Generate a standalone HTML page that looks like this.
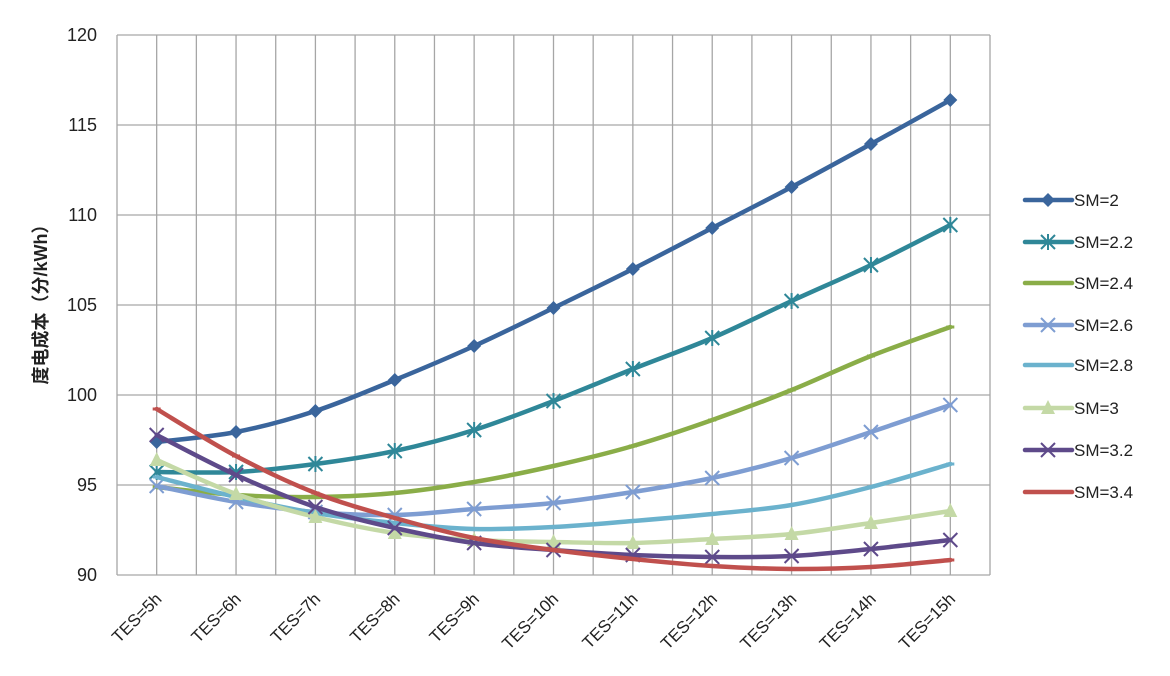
<!DOCTYPE html>
<html><head><meta charset="utf-8"><style>
html,body{margin:0;padding:0;background:#fff;}
svg text{font-family:"Liberation Sans","Noto Sans CJK SC",sans-serif;fill:#222;}
</style></head><body>
<svg id="s" width="1170" height="671" xmlns="http://www.w3.org/2000/svg">
<g id="grid" stroke="#a6a6a6" stroke-width="1.3" fill="none"></g>
<g font-size="18" text-anchor="end">
<text x="97" y="41">120</text><text x="97" y="131">115</text><text x="97" y="221">110</text>
<text x="97" y="311">105</text><text x="97" y="401">100</text><text x="97" y="491">95</text><text x="97" y="581">90</text>
</g>
<text transform="translate(47,300) rotate(-90)" font-size="18" font-weight="bold" text-anchor="middle">度电成本（分/kWh）</text>
<g id="xl" font-size="17" text-anchor="end"></g>
<g id="series"></g>
<g id="legend" font-size="17"></g>
</svg>
<script>
var NS="http://www.w3.org/2000/svg";
function el(p,t,a,txt){var e=document.createElementNS(NS,t);for(var k in a)e.setAttribute(k,a[k]);if(txt)e.textContent=txt;p.appendChild(e);return e;}
var L=117,R=990,T=35,B=575,w=(R-L)/11;
var g=document.getElementById('grid');
for(var i=0;i<=22;i++){var x=L+i*w/2;el(g,'line',{x1:x,y1:T,x2:x,y2:B});}
for(var j=0;j<=6;j++){var y=T+j*90;el(g,'line',{x1:L,y1:y,x2:R,y2:y});}
var xl=document.getElementById('xl');
for(var i=0;i<11;i++){var cx=L+w*(i+0.5);el(xl,'text',{transform:'translate('+(cx+6)+',600) rotate(-45)'},'TES='+(i+5)+'h');}
var S=[
['SM=2','#3a659c','d',[442,432,411,380,346,308,269,228,187,144,100]],
['SM=2.2','#2f8798','x',[472,472,464,451,430,401,369,338,301,265,225]],
['SM=2.4','#8aad48','-',[487,495,497,493,482,466,446,420,390,356,327]],
['SM=2.6','#7e9dd2','x',[486,502,512,515,509,503,492,478,458,432,405]],
['SM=2.8','#6bb2cd','-',[477,497,513,523,529,527,521,514,505,487,464]],
['SM=3','#c4d9a6','t',[460,494,517,533,540,542,543,539,534,523,511]],
['SM=3.2','#5e4a8a','x',[435,475,507,528,543,550,555,557,556,549,540]],
['SM=3.4','#c0504d','-',[409,456,493,518,538,550,559,566,569,567,560]]];
var sg=document.getElementById('series'),lg=document.getElementById('legend');
var ly=[200,242,283,325,365,408,450,492];
function marker(p,k,x,y,c){
 if(k=='d')el(p,'path',{d:'M'+x+','+(y-7)+'L'+(x+7)+','+y+'L'+x+','+(y+7)+'L'+(x-7)+','+y+'Z',fill:c});
 else if(k=='t')el(p,'path',{d:'M'+x+','+(y-8)+'L'+(x+7)+','+(y+6)+'L'+(x-7)+','+(y+6)+'Z',fill:c});
 else if(k=='x'){el(p,'path',{d:'M'+(x-7)+','+(y-7)+'L'+(x+7)+','+(y+7)+'M'+(x+7)+','+(y-7)+'L'+(x-7)+','+(y+7)+(c=='#2f8798'?'M'+x+','+(y-8)+'L'+x+','+(y+8):''),stroke:c,'stroke-width':2,fill:'none'});}
 else el(p,'rect',{x:x-4,y:y-1.5,width:8,height:3,fill:c});
}
S.forEach(function(s,si){
 var pts=s[3].map(function(y,i){return [L+w*(i+0.5),y];});
 var d='M'+pts[0][0]+','+pts[0][1];
 for(var i=0;i<pts.length-1;i++){
  var p0=pts[Math.max(i-1,0)],p1=pts[i],p2=pts[i+1],p3=pts[Math.min(i+2,pts.length-1)];
  var c1=[p1[0]+(p2[0]-p0[0])/6,p1[1]+(p2[1]-p0[1])/6],c2=[p2[0]-(p3[0]-p1[0])/6,p2[1]-(p3[1]-p1[1])/6];
  d+='C'+c1+' '+c2+' '+p2;
 }
 el(sg,'path',{d:d,stroke:s[1],'stroke-width':4.5,fill:'none','stroke-linecap':'round'});
 pts.forEach(function(p){marker(sg,s[2],p[0],p[1],s[1]);});
 var y=ly[si];
 el(lg,'line',{x1:1025,y1:y,x2:1072,y2:y,stroke:s[1],'stroke-width':4.5,'stroke-linecap':'round'});
 marker(lg,s[2],1048,y,s[1]);
 el(lg,'text',{x:1074,y:y+6},s[0]);
});
</script>
</body></html>
